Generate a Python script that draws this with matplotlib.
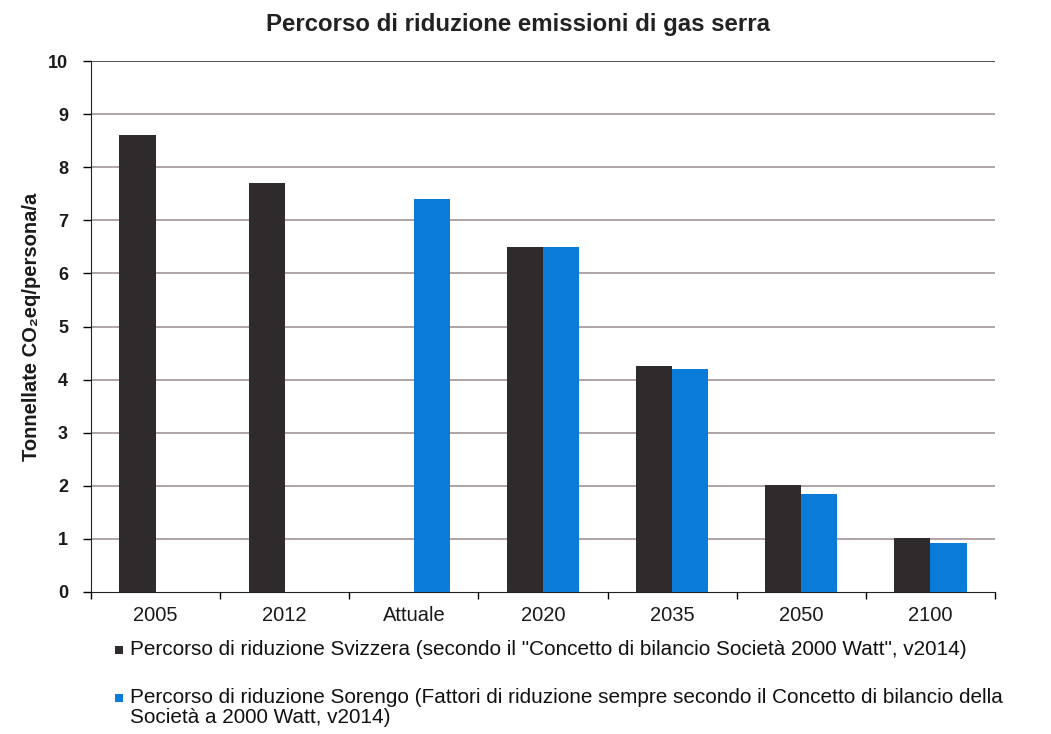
import matplotlib
matplotlib.use("Agg")
import matplotlib.pyplot as plt
from matplotlib.patches import Rectangle
import numpy as np

categories = ["2005", "2012", "Attuale", "2020", "2035", "2050", "2100"]
svizzera = [8.6, 7.7, np.nan, 6.5, 4.25, 2.02, 1.02]
sorengo = [np.nan, np.nan, 7.4, 6.5, 4.2, 1.85, 0.93]
label_svizzera = 'Percorso di riduzione Svizzera (secondo il "Concetto di bilancio Società 2000 Watt", v2014)'
label_sorengo = ("Percorso di riduzione Sorengo (Fattori di riduzione sempre secondo il Concetto di bilancio della\n"
                 "Società a 2000 Watt, v2014)")
title = "Percorso di riduzione emissioni di gas serra"
ylabel = "Tonnellate CO₂eq/persona/a"
yticks = list(range(0, 11))

plt.rcParams["font.family"] = ["Liberation Sans", "DejaVu Sans"]

dark = "#2f2a2b"
blue = "#0a7bd9"
grid_c = "#a39397"
W, H = 1051, 734

fig = plt.figure(figsize=(W / 100, H / 100), dpi=100)
ax = fig.add_axes([91 / W, 1 - 592 / H, (995 - 91) / W, (592 - 61) / H])

x = np.arange(len(categories))
w = 0.28
ax.bar(x - w / 2, svizzera, width=w, color=dark, zorder=3)
ax.bar(x + w / 2, sorengo, width=w, color=blue, zorder=3)

ax.set_xlim(-0.5, len(categories) - 0.5)
ax.set_ylim(0, 10)
ax.set_yticks(yticks)
ax.set_yticklabels([str(t) for t in yticks], fontsize=13, fontweight="bold", color="#1a1a1a")
ax.set_xticks(x)
ax.set_xticklabels(categories, fontsize=14.5, color="#1a1a1a")
ax.set_xticks(np.arange(-0.5, len(categories)), minor=True)
ax.tick_params(axis="x", which="major", length=0, pad=10)
ax.tick_params(axis="x", which="minor", length=5, direction="out", width=1)
ax.tick_params(axis="y", length=5.5, direction="out", width=1, pad=11)

for t in yticks[1:]:
    ax.axhline(t, color=("#333333" if t == 10 else grid_c), lw=1.2, zorder=1)

for s in ["top", "right"]:
    ax.spines[s].set_visible(False)
ax.spines["left"].set_color("#222222")
ax.spines["bottom"].set_color("#222222")

ax.set_ylabel(ylabel, fontsize=14.5, fontweight="bold", labelpad=5, color="#1a1a1a")
ttl = fig.text(518 / W, 1 - 24 / H, title, ha="center", va="center", fontsize=17,
               fontweight="bold", color="#222222")

# legend drawn below the axes
leg_items = [(label_svizzera, dark, 650), (label_sorengo, blue, 698)]
texts = []
for lab, col, yc in leg_items:
    fig.add_artist(Rectangle((115 / W, 1 - (yc + 4) / H), 8 / W, 8 / H,
                             transform=fig.transFigure, facecolor=col, edgecolor="none"))
    t = fig.text(130 / W, 1 - (yc - 10) / H, lab, ha="left", va="top", fontsize=14.8,
                 linespacing=1.05, color="#111111")
    texts.append(t)

# fit widths to the reference
fig.canvas.draw()
r = fig.canvas.get_renderer()
bw = ttl.get_window_extent(r).width
ttl.set_fontsize(17 * 506 / bw)
bw = texts[0].get_window_extent(r).width
fs = 14.8 * 835 / bw
for t in texts:
    t.set_fontsize(fs)

fig.savefig("out.png", dpi=100, facecolor="white")
